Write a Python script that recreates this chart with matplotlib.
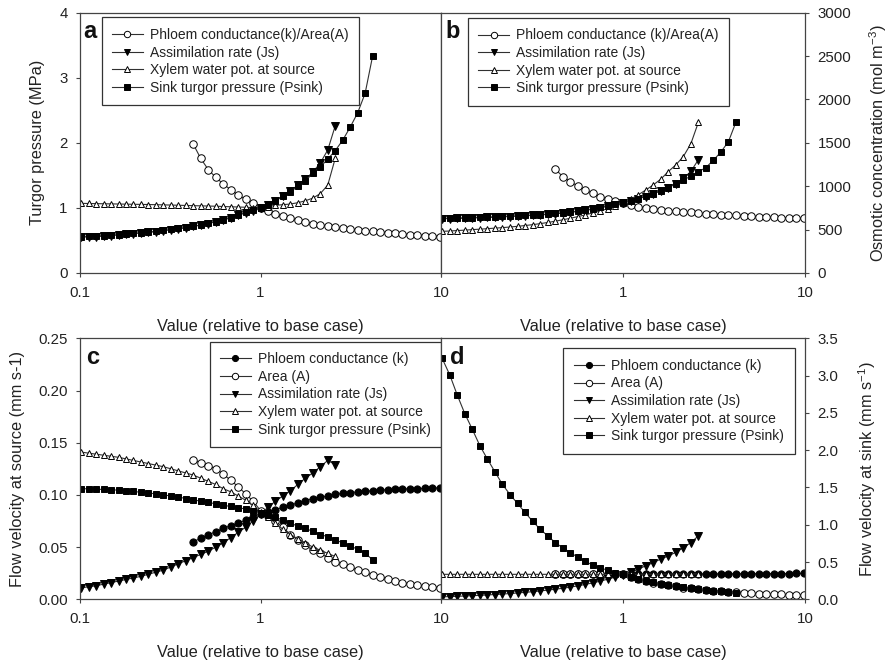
import matplotlib
matplotlib.use('Agg')
import matplotlib.pyplot as plt
from matplotlib.ticker import FixedLocator, FixedFormatter, NullLocator

plt.rcParams['font.family'] = ['Liberation Sans', 'DejaVu Sans']
plt.rcParams['mathtext.fontset'] = 'custom'
plt.rcParams['mathtext.rm'] = 'Liberation Sans'
plt.rcParams['mathtext.default'] = 'regular'

# parameter value relative to the base case (10 % steps)
X = [0.1015, 0.1117, 0.1228, 0.1351, 0.1486, 0.1635, 0.1799, 0.1978, 0.2176, 0.2394,
     0.2633, 0.2897, 0.3186, 0.3505, 0.3855, 0.4241, 0.4665, 0.5132, 0.5645, 0.6209,
     0.6830, 0.7513, 0.8264, 0.9091, 1.0, 1.1, 1.21, 1.331, 1.4641, 1.6105,
     1.7716, 1.9487, 2.1436, 2.3579, 2.5937, 2.8531, 3.1384, 3.4523, 3.7975, 4.1772,
     4.5950, 5.0545, 5.5599, 6.1159, 6.7275, 7.4002, 8.1403, 8.9543, 9.8497]
FROM_START = 0   # series starting at x = 0.1
FROM_042 = 15    # series starting at x = 0.42

# (a) turgor pressure (MPa)
a_phloem = [1.98, 1.76, 1.59, 1.47, 1.37, 1.28, 1.20, 1.13, 1.07, 1.00,
            0.95, 0.91, 0.87, 0.84, 0.81, 0.78, 0.76, 0.74, 0.72, 0.70,
            0.69, 0.675, 0.66, 0.65, 0.64, 0.63, 0.62, 0.61, 0.60, 0.59,
            0.585, 0.575, 0.57, 0.56]
a_assim = [0.55, 0.555, 0.56, 0.565, 0.575, 0.585, 0.595, 0.605, 0.615, 0.625,
           0.635, 0.65, 0.665, 0.68, 0.695, 0.715, 0.735, 0.76, 0.785, 0.815,
           0.845, 0.885, 0.925, 0.96, 1.00, 1.05, 1.11, 1.18, 1.26, 1.35,
           1.44, 1.55, 1.69, 1.89, 2.26]
a_xylem = [1.07, 1.068, 1.066, 1.064, 1.062, 1.06, 1.058, 1.056, 1.054, 1.052,
           1.05, 1.047, 1.044, 1.041, 1.038, 1.035, 1.032, 1.029, 1.026, 1.022,
           1.018, 1.014, 1.01, 1.005, 1.00, 1.02, 1.04, 1.05, 1.06, 1.08,
           1.11, 1.15, 1.22, 1.35, 1.76]
a_sink = [0.56, 0.565, 0.57, 0.575, 0.58, 0.59, 0.60, 0.61, 0.62, 0.63,
          0.64, 0.655, 0.67, 0.685, 0.70, 0.72, 0.74, 0.765, 0.79, 0.82,
          0.85, 0.89, 0.93, 0.965, 1.00, 1.05, 1.11, 1.18, 1.25, 1.33,
          1.42, 1.53, 1.63, 1.75, 1.88, 2.04, 2.24, 2.46, 2.76, 3.33]

# (b) osmotic concentration (mol m-3)
b_phloem = [1200, 1110, 1052, 1003, 956, 918, 879, 849, 826, 805,
            785, 765, 750, 738, 728, 720, 712, 705, 698, 690,
            684, 678, 673, 668, 663, 658, 654, 650, 646, 642,
            638, 635, 632, 630]
b_assim = [625, 627, 629, 631, 634, 637, 640, 643, 647, 651,
           655, 659, 664, 669, 675, 682, 690, 699, 709, 721,
           735, 751, 769, 789, 812, 832, 855, 881, 912, 946,
           985, 1030, 1090, 1170, 1305]
b_xylem = [480, 484, 489, 494, 500, 505, 511, 517, 523, 530,
           538, 547, 557, 569, 582, 597, 613, 631, 650, 670,
           692, 716, 742, 771, 805, 850, 900, 955, 1014, 1080,
           1168, 1245, 1341, 1488, 1735]
b_sink = [630, 632, 634, 636, 639, 642, 645, 648, 652, 656,
          660, 664, 669, 674, 680, 687, 695, 704, 714, 726,
          740, 756, 774, 793, 815, 835, 858, 884, 915, 948,
          985, 1026, 1072, 1115, 1165, 1215, 1300, 1395, 1515, 1740]

# (c) flow velocity at source (mm s-1)
c_k = [0.0552, 0.0584, 0.0616, 0.0648, 0.068, 0.0705, 0.073, 0.0755, 0.079, 0.082,
       0.084, 0.086, 0.088, 0.090, 0.0925, 0.0945, 0.0965, 0.0977, 0.099, 0.1005,
       0.1015, 0.102, 0.103, 0.1037, 0.104, 0.1047, 0.105, 0.1053, 0.1056, 0.106,
       0.106, 0.1063, 0.1066, 0.1068]
c_area = [0.133, 0.131, 0.128, 0.125, 0.120, 0.114, 0.108, 0.101, 0.094, 0.085,
          0.080, 0.075, 0.069, 0.062, 0.057, 0.052, 0.047, 0.044, 0.040, 0.036,
          0.0338, 0.031, 0.028, 0.0259, 0.0233, 0.0217, 0.0194, 0.0178, 0.016, 0.0147,
          0.0137, 0.0127, 0.012, 0.011]
c_assim = [0.011, 0.012, 0.013, 0.0145, 0.016, 0.0175, 0.019, 0.0205, 0.022, 0.024,
           0.026, 0.028, 0.031, 0.034, 0.037, 0.040, 0.043, 0.046, 0.050, 0.054,
           0.059, 0.064, 0.069, 0.075, 0.082, 0.088, 0.094, 0.099, 0.104, 0.110,
           0.116, 0.121, 0.127, 0.133, 0.129]
c_xylem = [0.141, 0.140, 0.139, 0.138, 0.137, 0.136, 0.1345, 0.133, 0.1315, 0.130,
           0.1285, 0.127, 0.125, 0.123, 0.121, 0.119, 0.116, 0.113, 0.110, 0.106,
           0.103, 0.099, 0.095, 0.090, 0.084, 0.079, 0.073, 0.067, 0.062, 0.058,
           0.054, 0.050, 0.047, 0.044, 0.041]
c_sink = [0.106, 0.1058, 0.1055, 0.1052, 0.105, 0.1045, 0.104, 0.1033, 0.1025, 0.1018,
          0.101, 0.100, 0.099, 0.098, 0.0965, 0.0953, 0.094, 0.0928, 0.0915, 0.090,
          0.089, 0.0878, 0.0865, 0.085, 0.083, 0.081, 0.0785, 0.076, 0.073, 0.070,
          0.068, 0.065, 0.062, 0.060, 0.057, 0.054, 0.051, 0.048, 0.044, 0.038]

# (d) flow velocity at sink (mm s-1)
d_k = [0.335, 0.335, 0.336, 0.336, 0.336, 0.337, 0.337, 0.337, 0.338, 0.338,
       0.338, 0.339, 0.339, 0.339, 0.340, 0.340, 0.340, 0.341, 0.341, 0.341,
       0.342, 0.342, 0.342, 0.343, 0.343, 0.343, 0.344, 0.344, 0.344, 0.345,
       0.345, 0.345, 0.346, 0.346]
d_area = [0.335, 0.335, 0.335, 0.335, 0.335, 0.335, 0.335, 0.335, 0.335, 0.335,
          0.30, 0.27, 0.245, 0.225, 0.205, 0.188, 0.172, 0.158, 0.145, 0.134,
          0.124, 0.115, 0.107, 0.099, 0.092, 0.086, 0.081, 0.076, 0.072, 0.069,
          0.066, 0.063, 0.061, 0.059]
d_assim = [0.033, 0.036, 0.040, 0.044, 0.048, 0.053, 0.058, 0.064, 0.070, 0.077,
           0.085, 0.093, 0.102, 0.112, 0.123, 0.135, 0.148, 0.163, 0.18, 0.20,
           0.22, 0.245, 0.27, 0.30, 0.33, 0.36, 0.40, 0.45, 0.49, 0.54,
           0.58, 0.63, 0.69, 0.76, 0.85]
d_xylem = [0.335, 0.335, 0.335, 0.335, 0.335, 0.335, 0.335, 0.335, 0.335, 0.335,
           0.335, 0.335, 0.335, 0.335, 0.335, 0.335, 0.335, 0.335, 0.335, 0.335,
           0.335, 0.335, 0.335, 0.335, 0.335, 0.336, 0.336, 0.337, 0.337, 0.338,
           0.338, 0.339, 0.339, 0.340, 0.340]
d_sink = [3.23, 3.01, 2.74, 2.49, 2.28, 2.06, 1.88, 1.71, 1.54, 1.405,
          1.285, 1.164, 1.047, 0.94, 0.851, 0.761, 0.69, 0.627, 0.564, 0.51,
          0.456, 0.421, 0.389, 0.358, 0.335, 0.30, 0.275, 0.25, 0.23, 0.21,
          0.19, 0.175, 0.16, 0.145, 0.135, 0.125, 0.115, 0.105, 0.098, 0.09]

LBL_K = 'Phloem conductance (k)'
LBL_AREA = 'Area (A)'
LBL_ASSIM = 'Assimilation rate (Js)'
LBL_XYLEM = 'Xylem water pot. at source'
LBL_SINK = 'Sink turgor pressure (Psink)'

STYLE = {
    'k': dict(marker='o', ms=5.2, mfc='black'),
    'area': dict(marker='o', ms=5.4, mfc='white'),
    'assim': dict(marker='v', ms=5.2, mfc='black'),
    'xylem': dict(marker='^', ms=4.8, mfc='white'),
    'sink': dict(marker='s', ms=4.9, mfc='black'),
}
INK = '#222222'
TICK_FS = 10.8
LABEL_FS = 11.8


def draw(ax, series):
    for lab, y, first, st in series:
        ax.plot(X[first:first + len(y)], y, label=lab, color='#303030', lw=0.8,
                mec='black', mew=0.7, **STYLE[st])


def style_axis(ax, ylim, yticks, yfmt, right=False, hide_first_x=False):
    ax.set_xscale('log')
    ax.set_xlim(0.1, 10)
    ax.set_ylim(*ylim)
    ax.xaxis.set_major_locator(FixedLocator([0.1, 1, 10]))
    ax.xaxis.set_minor_locator(NullLocator())
    ax.xaxis.set_major_formatter(FixedFormatter(['' if hide_first_x else '0.1', '1', '10']))
    ax.yaxis.set_major_locator(FixedLocator(yticks))
    ax.yaxis.set_major_formatter(FixedFormatter([yfmt.format(v) for v in yticks]))
    if right:
        ax.yaxis.tick_right()
        ax.yaxis.set_label_position('right')
    ax.tick_params(direction='out', length=3, width=0.8, color='#444444',
                   labelsize=TICK_FS, labelcolor=INK)
    ax.tick_params(axis='x', pad=6.5)
    ax.tick_params(axis='y', pad=6)
    for s in ax.spines.values():
        s.set_color('#444444')
        s.set_linewidth(0.9)
    ax.set_xlabel('Value (relative to base case)', fontsize=LABEL_FS, color=INK, labelpad=13.5)


def legend(ax, loc, anchor):
    leg = ax.legend(loc=loc, bbox_to_anchor=anchor, borderaxespad=0, fontsize=10,
                    frameon=True, fancybox=False, edgecolor='#333333', framealpha=1,
                    handlelength=2.2, handletextpad=0.5, labelspacing=0.26,
                    borderpad=0.76, markerscale=0.85)
    leg.get_frame().set_linewidth(0.9)
    for t in leg.get_texts():
        t.set_color(INK)


fig = plt.figure(figsize=(8.91, 6.64), dpi=100)
ax_a = fig.add_axes([0.08979, 0.58886, 0.40516, 0.39202])
ax_b = fig.add_axes([0.49495, 0.58886, 0.40853, 0.39202])
ax_c = fig.add_axes([0.08979, 0.09744, 0.40516, 0.39307])
ax_d = fig.add_axes([0.49495, 0.09744, 0.40853, 0.39307])

# (a)
draw(ax_a, [('Phloem conductance(k)/Area(A)', a_phloem, FROM_042, 'area'),
            (LBL_ASSIM, a_assim, FROM_START, 'assim'),
            (LBL_XYLEM, a_xylem, FROM_START, 'xylem'),
            (LBL_SINK, a_sink, FROM_START, 'sink')])
style_axis(ax_a, (0, 4), [0, 1, 2, 3, 4], '{:d}')
ax_a.set_ylabel('Turgor pressure (MPa)', fontsize=LABEL_FS, color=INK)
ax_a.yaxis.set_label_coords(-0.097, 0.5)
legend(ax_a, 'upper left', (0.060, 0.982))

# (b)
draw(ax_b, [('Phloem conductance (k)/Area(A)', b_phloem, FROM_042, 'area'),
            (LBL_ASSIM, b_assim, FROM_START, 'assim'),
            (LBL_XYLEM, b_xylem, FROM_START, 'xylem'),
            (LBL_SINK, b_sink, FROM_START, 'sink')])
style_axis(ax_b, (0, 3000), [0, 500, 1000, 1500, 2000, 2500, 3000], '{:d}',
           right=True, hide_first_x=True)
ax_b.set_ylabel('Osmotic concentration (mol m$^{-3}$)', fontsize=LABEL_FS, color=INK)
ax_b.yaxis.set_label_coords(1.170, 0.5)
legend(ax_b, 'upper left', (0.074, 0.980))

# (c)
draw(ax_c, [(LBL_K, c_k, FROM_042, 'k'),
            (LBL_AREA, c_area, FROM_042, 'area'),
            (LBL_ASSIM, c_assim, FROM_START, 'assim'),
            (LBL_XYLEM, c_xylem, FROM_START, 'xylem'),
            (LBL_SINK, c_sink, FROM_START, 'sink')])
style_axis(ax_c, (0, 0.25), [0, 0.05, 0.10, 0.15, 0.20, 0.25], '{:.2f}')
ax_c.set_ylabel('Flow velocity at source (mm s-1)', fontsize=LABEL_FS, color=INK)
ax_c.yaxis.set_label_coords(-0.152, 0.5)
legend(ax_c, 'upper right', (1.0, 0.987))

# (d)
draw(ax_d, [(LBL_K, d_k, FROM_042, 'k'),
            (LBL_AREA, d_area, FROM_042, 'area'),
            (LBL_ASSIM, d_assim, FROM_START, 'assim'),
            (LBL_XYLEM, d_xylem, FROM_START, 'xylem'),
            (LBL_SINK, d_sink, FROM_START, 'sink')])
style_axis(ax_d, (0, 3.5), [0, 0.5, 1.0, 1.5, 2.0, 2.5, 3.0, 3.5], '{:.1f}',
           right=True, hide_first_x=True)
ax_d.set_ylabel('Flow velocity at sink (mm s$^{-1}$)', fontsize=LABEL_FS, color=INK)
ax_d.yaxis.set_label_coords(1.140, 0.5)
legend(ax_d, 'upper left', (0.336, 0.962))

for ax, letter, x in [(ax_a, 'a', 0.009), (ax_b, 'b', 0.011), (ax_c, 'c', 0.017), (ax_d, 'd', 0.025)]:
    ax.text(x, 0.903, letter, transform=ax.transAxes, fontsize=17, fontweight='bold',
            ha='left', va='baseline', color='#111111')

fig.savefig('out.png', dpi=100)
